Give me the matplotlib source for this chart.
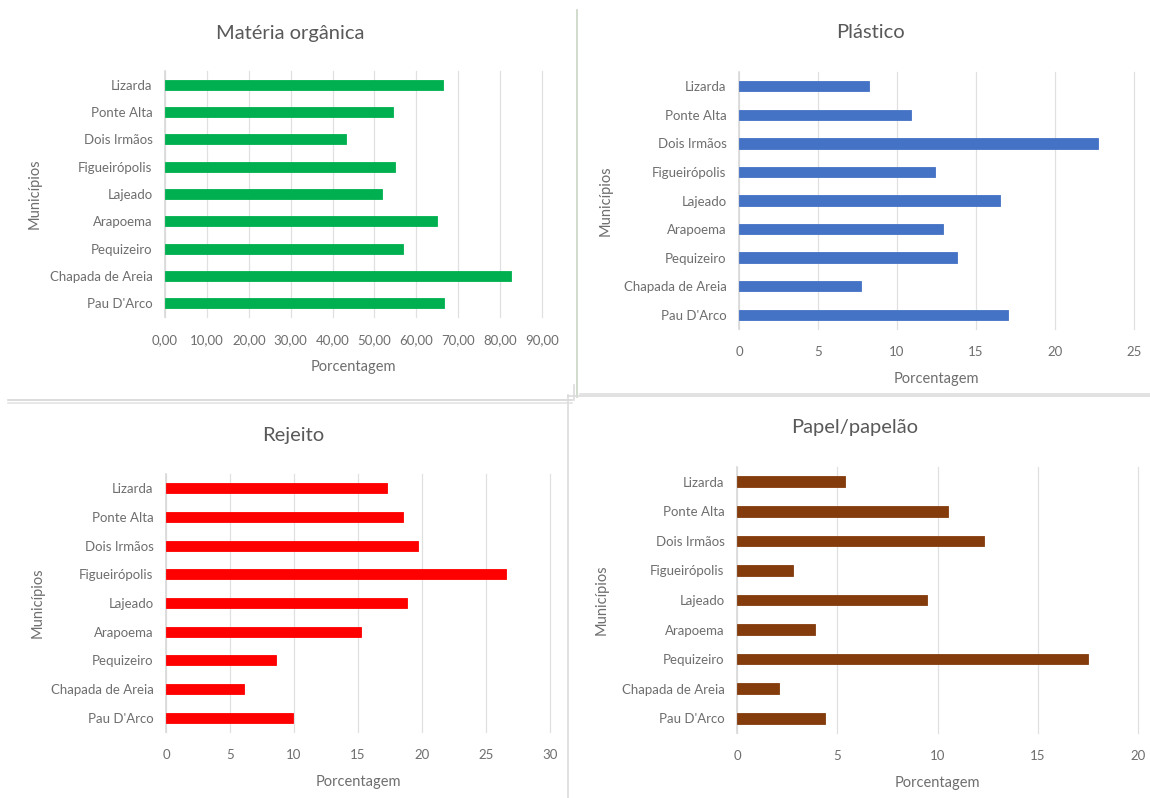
import matplotlib
matplotlib.use("Agg")
import matplotlib.pyplot as plt
from matplotlib.ticker import FuncFormatter, MultipleLocator
from matplotlib.lines import Line2D

# Municípios, de baixo para cima (ordem do eixo de categorias)
municipios = ["Pau D'Arco", "Chapada de Areia", "Pequizeiro", "Arapoema", "Lajeado",
              "Figueirópolis", "Dois Irmãos", "Ponte Alta", "Lizarda"]

# Percentual de cada fração por município
materia_organica = [66.7, 82.7, 56.8, 65.0, 51.9, 54.8, 43.1, 54.5, 66.4]
plastico = [17.0, 7.7, 13.8, 12.9, 16.5, 12.4, 22.7, 10.9, 8.2]
rejeito = [9.9, 6.1, 8.6, 15.2, 18.8, 26.6, 19.7, 18.5, 17.3]
papel = [4.4, 2.1, 17.5, 3.9, 9.5, 2.8, 12.3, 10.5, 5.4]

W, H = 1150, 798
plt.rcParams["font.family"] = ["Lato", "DejaVu Sans"]

fig = plt.figure(figsize=(W / 100, H / 100), dpi=100)
fig.patch.set_facecolor("white")

TXT = "#6e6e6e"
GRID = "#e0e0e0"


def fx(x):
    return x / W


def fy(y):
    return 1 - y / H


def painel(box, valores, cor, titulo, tit_xy, xmax, passo, ylab_x, virgula=False):
    x0, x1, yt, yb = box
    ax = fig.add_axes([fx(x0), fy(yb), (x1 - x0) / W, (yb - yt) / H])
    ax.barh(range(len(municipios)), valores, height=0.36, color=cor,
            edgecolor=cor, linewidth=0.6, zorder=3)
    ax.set_xlim(0, xmax)
    ax.set_ylim(-0.5, len(municipios) - 0.5)
    ax.set_yticks(range(len(municipios)))
    ax.set_yticklabels(municipios)
    ax.xaxis.set_major_locator(MultipleLocator(passo))
    if virgula:
        ax.xaxis.set_major_formatter(FuncFormatter(lambda v, p: f"{v:.2f}".replace(".", ",")))
    ax.grid(axis="x", color=GRID, linewidth=0.9, zorder=0)
    ax.grid(axis="y", visible=False)
    for s in ["top", "right", "bottom"]:
        ax.spines[s].set_visible(False)
    ax.spines["left"].set_color("#d9d9d9")
    ax.spines["left"].set_linewidth(1.2)
    ax.tick_params(axis="both", length=0, colors=TXT, labelsize=9.5)
    ax.tick_params(axis="x", pad=12)
    ax.tick_params(axis="y", pad=9)
    for gl in ax.get_xgridlines():
        gl.set_clip_on(False)
    ax.set_xlabel("Porcentagem", color=TXT, fontsize=10.5, labelpad=10)
    fig.text(fx(ylab_x), fy((yt + yb) / 2), "Municípios", rotation=90,
             ha="center", va="center", color=TXT, fontsize=10.5)
    fig.text(fx(tit_xy[0]), fy(tit_xy[1]), titulo, ha="center", va="center",
             color="#595959", fontsize=14.5)
    return ax


painel((165, 542, 71, 317), materia_organica, "#00B050", "Matéria orgânica",
       (290, 33), 90, 10, 35, virgula=True)
painel((739, 1134, 72, 329), plastico, "#4472C4", "Plástico",
       (870, 33), 25, 5, 606)
painel((166, 550, 474, 732), rejeito, "#FF0000", "Rejeito",
       (293, 436), 30, 5, 38)
painel((737, 1138, 467, 733), papel, "#843C0C", "Papel/papelão",
       (855, 428), 20, 5, 602)

# molduras dos quadros
bordas = [
    ((577, 577), (10, 397), "#c9d5c2"),
    ((574, 574), (385, 400), "#dcdcdc"),
    ((8, 572), (400, 400), "#d6d6d6"),
    ((8, 572), (403, 403), "#e4e4e4"),
    ((580, 1150), (394, 394), "#dedede"),
    ((568, 568), (395, 798), "#dcdcdc"),
    ((568, 1150), (396, 396), "#dcdcdc"),
]
for xs, ys, c in bordas:
    fig.add_artist(Line2D([fx(xs[0]), fx(xs[1])], [fy(ys[0]), fy(ys[1])],
                          color=c, linewidth=1.2, transform=fig.transFigure))

fig.savefig("out.png", dpi=100, facecolor="white")
